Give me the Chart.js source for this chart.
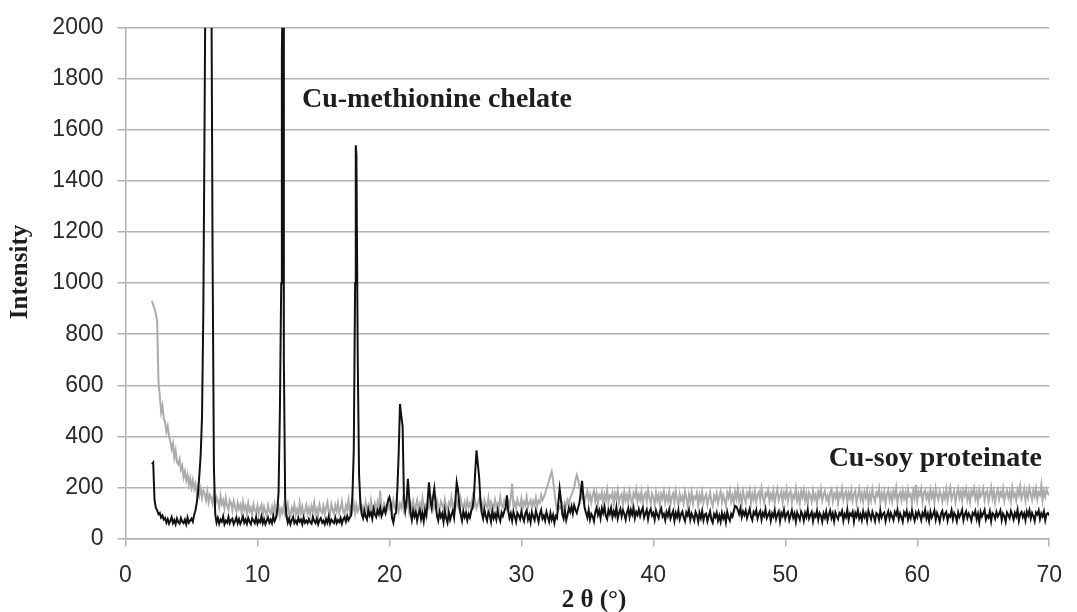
<!DOCTYPE html>
<html>
<head>
<meta charset="utf-8">
<script src="https://cdn.jsdelivr.net/npm/chart.js@4.4.1/dist/chart.umd.min.js"></script>
<style>
  html, body { margin: 0; padding: 0; background: #fff; }
  #xrd { display: block; }
</style>
</head>
<body>
<canvas id="xrd" width="1077" height="612"></canvas>
<script>
// 2 theta sampling (degrees), 0.1 step
const twoTheta = [
   2.0,  2.1,  2.2,  2.3,  2.4,  2.5,  2.6,  2.7,  2.8,  2.9,
   3.0,  3.1,  3.2,  3.3,  3.4,  3.5,  3.6,  3.7,  3.8,  3.9,
   4.0,  4.1,  4.2,  4.3,  4.4,  4.5,  4.6,  4.7,  4.8,  4.9,
   5.0,  5.1,  5.2,  5.3,  5.4,  5.5,  5.6,  5.7,  5.8,  5.9,
   6.0,  6.1,  6.2,  6.3,  6.4,  6.5,  6.6,  6.7,  6.8,  6.9,
   7.0,  7.1,  7.2,  7.3,  7.4,  7.5,  7.6,  7.7,  7.8,  7.9,
   8.0,  8.1,  8.2,  8.3,  8.4,  8.5,  8.6,  8.7,  8.8,  8.9,
   9.0,  9.1,  9.2,  9.3,  9.4,  9.5,  9.6,  9.7,  9.8,  9.9,
  10.0, 10.1, 10.2, 10.3, 10.4, 10.5, 10.6, 10.7, 10.8, 10.9,
  11.0, 11.1, 11.2, 11.3, 11.4, 11.5, 11.6, 11.7, 11.8, 11.9,
  12.0, 12.1, 12.2, 12.3, 12.4, 12.5, 12.6, 12.7, 12.8, 12.9,
  13.0, 13.1, 13.2, 13.3, 13.4, 13.5, 13.6, 13.7, 13.8, 13.9,
  14.0, 14.1, 14.2, 14.3, 14.4, 14.5, 14.6, 14.7, 14.8, 14.9,
  15.0, 15.1, 15.2, 15.3, 15.4, 15.5, 15.6, 15.7, 15.8, 15.9,
  16.0, 16.1, 16.2, 16.3, 16.4, 16.5, 16.6, 16.7, 16.8, 16.9,
  17.0, 17.1, 17.2, 17.3, 17.4, 17.5, 17.6, 17.7, 17.8, 17.9,
  18.0, 18.1, 18.2, 18.3, 18.4, 18.5, 18.6, 18.7, 18.8, 18.9,
  19.0, 19.1, 19.2, 19.3, 19.4, 19.5, 19.6, 19.7, 19.8, 19.9,
  20.0, 20.1, 20.2, 20.3, 20.4, 20.5, 20.6, 20.7, 20.8, 20.9,
  21.0, 21.1, 21.2, 21.3, 21.4, 21.5, 21.6, 21.7, 21.8, 21.9,
  22.0, 22.1, 22.2, 22.3, 22.4, 22.5, 22.6, 22.7, 22.8, 22.9,
  23.0, 23.1, 23.2, 23.3, 23.4, 23.5, 23.6, 23.7, 23.8, 23.9,
  24.0, 24.1, 24.2, 24.3, 24.4, 24.5, 24.6, 24.7, 24.8, 24.9,
  25.0, 25.1, 25.2, 25.3, 25.4, 25.5, 25.6, 25.7, 25.8, 25.9,
  26.0, 26.1, 26.2, 26.3, 26.4, 26.5, 26.6, 26.7, 26.8, 26.9,
  27.0, 27.1, 27.2, 27.3, 27.4, 27.5, 27.6, 27.7, 27.8, 27.9,
  28.0, 28.1, 28.2, 28.3, 28.4, 28.5, 28.6, 28.7, 28.8, 28.9,
  29.0, 29.1, 29.2, 29.3, 29.4, 29.5, 29.6, 29.7, 29.8, 29.9,
  30.0, 30.1, 30.2, 30.3, 30.4, 30.5, 30.6, 30.7, 30.8, 30.9,
  31.0, 31.1, 31.2, 31.3, 31.4, 31.5, 31.6, 31.7, 31.8, 31.9,
  32.0, 32.1, 32.2, 32.3, 32.4, 32.5, 32.6, 32.7, 32.8, 32.9,
  33.0, 33.1, 33.2, 33.3, 33.4, 33.5, 33.6, 33.7, 33.8, 33.9,
  34.0, 34.1, 34.2, 34.3, 34.4, 34.5, 34.6, 34.7, 34.8, 34.9,
  35.0, 35.1, 35.2, 35.3, 35.4, 35.5, 35.6, 35.7, 35.8, 35.9,
  36.0, 36.1, 36.2, 36.3, 36.4, 36.5, 36.6, 36.7, 36.8, 36.9,
  37.0, 37.1, 37.2, 37.3, 37.4, 37.5, 37.6, 37.7, 37.8, 37.9,
  38.0, 38.1, 38.2, 38.3, 38.4, 38.5, 38.6, 38.7, 38.8, 38.9,
  39.0, 39.1, 39.2, 39.3, 39.4, 39.5, 39.6, 39.7, 39.8, 39.9,
  40.0, 40.1, 40.2, 40.3, 40.4, 40.5, 40.6, 40.7, 40.8, 40.9,
  41.0, 41.1, 41.2, 41.3, 41.4, 41.5, 41.6, 41.7, 41.8, 41.9,
  42.0, 42.1, 42.2, 42.3, 42.4, 42.5, 42.6, 42.7, 42.8, 42.9,
  43.0, 43.1, 43.2, 43.3, 43.4, 43.5, 43.6, 43.7, 43.8, 43.9,
  44.0, 44.1, 44.2, 44.3, 44.4, 44.5, 44.6, 44.7, 44.8, 44.9,
  45.0, 45.1, 45.2, 45.3, 45.4, 45.5, 45.6, 45.7, 45.8, 45.9,
  46.0, 46.1, 46.2, 46.3, 46.4, 46.5, 46.6, 46.7, 46.8, 46.9,
  47.0, 47.1, 47.2, 47.3, 47.4, 47.5, 47.6, 47.7, 47.8, 47.9,
  48.0, 48.1, 48.2, 48.3, 48.4, 48.5, 48.6, 48.7, 48.8, 48.9,
  49.0, 49.1, 49.2, 49.3, 49.4, 49.5, 49.6, 49.7, 49.8, 49.9,
  50.0, 50.1, 50.2, 50.3, 50.4, 50.5, 50.6, 50.7, 50.8, 50.9,
  51.0, 51.1, 51.2, 51.3, 51.4, 51.5, 51.6, 51.7, 51.8, 51.9,
  52.0, 52.1, 52.2, 52.3, 52.4, 52.5, 52.6, 52.7, 52.8, 52.9,
  53.0, 53.1, 53.2, 53.3, 53.4, 53.5, 53.6, 53.7, 53.8, 53.9,
  54.0, 54.1, 54.2, 54.3, 54.4, 54.5, 54.6, 54.7, 54.8, 54.9,
  55.0, 55.1, 55.2, 55.3, 55.4, 55.5, 55.6, 55.7, 55.8, 55.9,
  56.0, 56.1, 56.2, 56.3, 56.4, 56.5, 56.6, 56.7, 56.8, 56.9,
  57.0, 57.1, 57.2, 57.3, 57.4, 57.5, 57.6, 57.7, 57.8, 57.9,
  58.0, 58.1, 58.2, 58.3, 58.4, 58.5, 58.6, 58.7, 58.8, 58.9,
  59.0, 59.1, 59.2, 59.3, 59.4, 59.5, 59.6, 59.7, 59.8, 59.9,
  60.0, 60.1, 60.2, 60.3, 60.4, 60.5, 60.6, 60.7, 60.8, 60.9,
  61.0, 61.1, 61.2, 61.3, 61.4, 61.5, 61.6, 61.7, 61.8, 61.9,
  62.0, 62.1, 62.2, 62.3, 62.4, 62.5, 62.6, 62.7, 62.8, 62.9,
  63.0, 63.1, 63.2, 63.3, 63.4, 63.5, 63.6, 63.7, 63.8, 63.9,
  64.0, 64.1, 64.2, 64.3, 64.4, 64.5, 64.6, 64.7, 64.8, 64.9,
  65.0, 65.1, 65.2, 65.3, 65.4, 65.5, 65.6, 65.7, 65.8, 65.9,
  66.0, 66.1, 66.2, 66.3, 66.4, 66.5, 66.6, 66.7, 66.8, 66.9,
  67.0, 67.1, 67.2, 67.3, 67.4, 67.5, 67.6, 67.7, 67.8, 67.9,
  68.0, 68.1, 68.2, 68.3, 68.4, 68.5, 68.6, 68.7, 68.8, 68.9,
  69.0, 69.1, 69.2, 69.3, 69.4, 69.5, 69.6, 69.7, 69.8, 69.9,
  70.0
];

// Cu-methionine chelate (black), one value per twoTheta
const chelateCounts = [
   290,  297,  150,  120,  110,   95,  100,   82,   90,   74,   // 2
    80,   62,   76,   58,   70,   84,   60,   72,   56,   78,   // 3
    64,   58,   80,   66,   60,   74,   56,   82,   62,   70,   // 4
    78,   66,   92,  110,  140,  180,  250,  330,  480,  900,   // 5
  1700, 2600, 3000, 3000, 3000, 2300, 1100,  280,   95,   62,   // 6
    80,   58,   74,   66,   86,   56,   70,   62,   84,   60,   // 7
    72,   78,   56,   68,   82,   60,   76,   58,   70,   86,   // 8
    62,   74,   58,   80,   66,   56,   78,   70,   60,   84,   // 9
    58,   72,   64,   86,   60,   76,   56,   70,   82,   62,   // 10
    74,   60,   88,   68,   80,  110,  180,  500, 1000, 2100,   // 11
   700,  150,   90,   62,   78,   56,   72,   84,   60,   70,   // 12
    58,   80,   66,   74,   56,   82,   62,   70,   60,   76,   // 13
    64,   58,   84,   68,   60,   78,   56,   72,   80,   62,   // 14
    70,   56,   76,   62,   86,   58,   74,   66,   60,   82,   // 15
    60,   72,   64,   80,   58,   76,   84,   66,   88,   72,   // 16
    82,   90,  170,  350, 1000, 1500,  700,  250,  140,   96,   // 17
    80,  108,   86,   74,  112,   90,  102,   78,  116,   94,   // 18
    84,  110,   96,  120,   88,  104,  118,  100,  126,  150,   // 19
   162,  140,   80,   62,   95,  100,  190,  330,  527,  480,   // 20
   440,  160,  110,  150,  234,  160,  100,   72,  108,   86,   // 21
   104,   70,   96,  112,   76,  100,   68,  110,   90,  150,   // 22
   220,  150,  120,  160,  196,  140,   90,   70,  104,   84,   // 23
    98,   66,  110,   80,   62,  102,   74,   94,  108,   82,   // 24
   150,  220,  190,  130,   95,   70,  106,   84,  100,   72,   // 25
    96,   82,  108,  120,  160,  260,  345,  292,  240,  150,   // 26
   100,   78,  112,   86,   70,  104,   92,   66,  108,   80,   // 27
    96,   74,  110,   84,   68,  102,   88,  106,  120,  169,   // 28
   110,   80,   98,   70,  104,   86,   66,  100,   90,   76,   // 29
   106,   82,   68,   98,  110,   74,   92,   64,  102,   86,   // 30
    72,  108,   88,   66,   96,  112,   78,   90,   70,  104,   // 31
    84,   66,  100,   74,   92,   62,   88,   80,  140,  195,   // 32
   150,   96,   78,  110,   72,   94,  120,  104,  126,   98,   // 33
   130,  112,  100,  120,  140,  180,  226,  160,  118,  100,   // 34
    82,  112,   74,   96,   86,   68,  104,  120,   92,  110,   // 35
    80,  118,  100,  124,   88,   76,  112,   96,  120,   84,   // 36
   106,   90,  122,   78,  100,  116,   86,  110,   96,   74,   // 37
   102,  118,   84,  112,   94,  120,   80,  104,   92,  114,   // 38
    88,  108,  120,   82,   98,  112,   76,  104,  116,   90,   // 39
   100,   74,  110,   92,   80,  106,  118,   86,   96,   72,   // 40
   104,   88,  112,   78,   94,  108,   70,  100,   84,  110,   // 41
    76,   96,  106,   82,   68,  102,   90,  112,   74,   98,   // 42
    86,   70,  104,   92,   66,  100,   80,  108,   72,   94,   // 43
    98,   68,   88,  106,   74,   62,   96,   84,  102,   70,   // 44
    90,   66,  100,   78,   94,   64,  104,   82,   70,   96,   // 45
    86,  108,  128,  125,  112,   96,  118,   84,  106,   92,   // 46
   110,   80,   98,  116,   86,   72,  104,   94,  112,   78,   // 47
    96,  108,   74,  100,   88,  114,   80,   92,  104,   70,   // 48
    98,   86,  110,   76,   94,  106,   68,  100,   88,  112,   // 49
    78,   96,  104,   72,   90,  110,   82,   98,   66,  102,   // 50
    88,   74,  106,   94,   70,  100,   84,  112,   78,   92,   // 51
   104,   68,   96,   86,  108,   74,  100,   90,   66,   98,   // 52
    82,  106,   72,   94,  110,   80,   98,   68,  102,   88,   // 53
    76,  100,   92,  108,   70,   96,   84,  112,   74,   98,   // 54
    90,  104,   66,  100,   86,  110,   78,   94,   72,  106,   // 55
    84,   98,   70,  108,   92,   76,  104,   88,   68,  100,   // 56
    94,   74,  110,   82,   96,  102,   68,   90,  106,   78,   // 57
   100,   86,   72,  104,   92,  112,   76,   98,   84,   66,   // 58
   102,   90,  108,   74,   96,   80,  110,   88,   70,  100,   // 59
    84,  106,   92,   72,  100,   88,  112,   78,   96,   68,   // 60
   104,   82,   94,  110,   74,  100,   86,   66,   98,  108,   // 61
    80,   96,  104,   70,   92,   86,  110,   76,  100,   90,   // 62
    68,  102,   84,   96,  112,   72,   94,  106,   80,   98,   // 63
    88,   70,  100,   92,  108,   76,   96,   64,  104,   86,   // 64
    98,  112,   74,   90,   82,  106,   68,  100,   94,   78,   // 65
   104,   86,   96,  110,   72,   98,   88,   66,  102,   92,   // 66
    80,  108,   94,   74,  100,   86,  112,   70,   96,  104,   // 67
    84,   98,   72,  106,   90,  110,   78,  100,   88,   68,   // 68
   102,   94,  110,   76,   98,   86,  106,   72,   96,  100,   // 69
    90
];

// extra points on the sharp chelate reflections
const chelatePeakTheta  = [11.85, 11.95, 17.45];
const chelatePeakCounts = [1900, 2100, 1540];

// Cu-soy proteinate (grey), one value per twoTheta
const proteinateCounts = [
   930,  915,  900,  880,  850,  610,  560,  495,  520,  470,   // 2
   455,  418,  440,  400,  380,  350,  372,  316,  345,  300,   // 3
   290,  310,  270,  285,  239,  262,  228,  250,  210,  236,   // 4
   200,  228,  195,  214,  176,  205,  170,  196,  160,  188,   // 5
   176,  150,  184,  142,  170,  158,  136,  176,  130,  162,   // 6
   148,  122,  166,  134,  150,  118,  158,  128,  112,  150,   // 7
   138,  110,  146,  124,  104,  140,  116,  132,  100,  144,   // 8
   112,  128,   98,  138,  106,  120,   94,  134,  110,  102,   // 9
   128,   96,  118,  132,   92,  124,  104,   90,  130,  108,   // 10
    98,  122,   90,  134,  106,   94,  126,   88,  116,  100,   // 11
   128,   92,  110,  136,   96,   88,  120,  104,  132,   94,   // 12
   114,   90,  138,  100,  124,   92,  108,  130,   96,  118,   // 13
    94,  126,  106,  140,   98,  116,   92,  132,  110,  100,   // 14
   128,   96,  120,  142,  104,   94,  134,  112,   98,  130,   // 15
   108,  138,  100,  118,  144,  104,   96,  130,  114,  150,   // 16
   102,  126,  110,  140,   98,  132,  106,  118,  146,  104,   // 17
   124,  100,  140,  112,  130,  106,  150,  118,  102,  136,   // 18
   112,  142,  108,  188,  120,  104,  138,  126,  110,  146,   // 19
   118,  132,  106,  150,  124,  112,  142,  108,  136,  120,   // 20
   148,  110,  130,  122,  154,  106,  138,  116,  144,  112,   // 21
   128,  150,  114,  136,  108,  158,  122,  132,  110,  146,   // 22
   120,  138,  156,  112,  130,  118,  150,  126,  108,  144,   // 23
   132,  116,  152,  124,  110,  140,  128,  160,  114,  136,   // 24
   118,  148,  126,  112,  156,  130,  120,  142,  116,  150,   // 25
   124,  138,  114,  160,  128,  146,  118,  134,  154,  122,   // 26
   140,  116,  150,  130,  124,  158,  112,  144,  132,  120,   // 27
   152,  126,  138,  118,  162,  130,  122,  148,  134,  116,   // 28
   146,  128,  160,  215,  124,  140,  118,  152,  132,  126,   // 29
   156,  120,  144,  130,  162,  124,  138,  150,  118,  146,   // 30
   132,  160,  126,  148,  140,  170,  150,  162,  175,  196,   // 31
   210,  228,  245,  262,  230,  185,  140,  115,  110,  125,   // 32
   118,  135,  112,  140,  128,  150,  132,  160,  170,  185,   // 33
   200,  228,  248,  230,  205,  180,  158,  172,  145,  165,   // 34
   185,  150,  172,  140,  168,  188,  146,  176,  135,  170,   // 35
   158,  182,  138,  172,  150,  190,  142,  168,  160,  180,   // 36
   136,  176,  155,  188,  142,  165,  174,  132,  182,  150,   // 37
   170,  140,  186,  156,  134,  178,  162,  192,  144,  172,   // 38
   152,  184,  136,  166,  178,  146,  190,  158,  138,  176,   // 39
   160,  134,  180,  150,  170,  128,  174,  156,  186,  140,   // 40
   168,  148,  182,  132,  162,  176,  142,  186,  154,  130,   // 41
   174,  150,  166,  138,  184,  160,  128,  172,  146,  180,   // 42
   136,  164,  156,  178,  130,  170,  148,  182,  140,  160,   // 43
   172,  132,  158,  180,  144,  126,  168,  152,  176,  138,   // 44
   164,  184,  142,  170,  150,  130,  178,  160,  188,  146,   // 45
   168,  140,  182,  156,  194,  148,  172,  136,  186,  160,   // 46
   142,  178,  164,  190,  138,  174,  152,  186,  144,  170,   // 47
   182,  150,  196,  162,  140,  178,  168,  190,  146,  174,   // 48
   156,  186,  138,  172,  194,  150,  166,  184,  142,  178,   // 49
   160,  192,  146,  176,  186,  140,  170,  158,  196,  150,   // 50
   174,  138,  184,  162,  190,  148,  176,  134,  180,  166,   // 51
   144,  188,  156,  172,  136,  182,  164,  194,  148,  170,   // 52
   186,  152,  168,  140,  180,  192,  146,  174,  160,  188,   // 53
   138,  176,  164,  196,  150,  170,  184,  142,  178,  158,   // 54
   190,  148,  172,  186,  140,  166,  194,  154,  176,  144,   // 55
   182,  160,  188,  136,  174,  150,  192,  162,  146,  180,   // 56
   168,  196,  142,  178,  156,  184,  138,  172,  190,  152,   // 57
   176,  146,  186,  164,  198,  140,  170,  182,  150,  188,   // 58
   158,  180,  144,  192,  166,  174,  136,  186,  160,  210,   // 59
   148,  184,  170,  194,  142,  178,  188,  156,  176,  146,   // 60
   190,  162,  182,  140,  196,  168,  152,  186,  172,  144,   // 61
   180,  158,  192,  148,  176,  200,  154,  170,  186,  142,   // 62
   174,  196,  160,  182,  146,  188,  168,  194,  152,  178,   // 63
   144,  186,  172,  198,  156,  180,  142,  190,  164,  176,   // 64
   196,  150,  178,  188,  146,  172,  200,  158,  184,  140,   // 65
   176,  192,  154,  180,  166,  196,  148,  174,  188,  160,   // 66
   182,  146,  198,  164,  176,  150,  190,  170,  204,  156,   // 67
   172,  194,  148,  184,  160,  198,  176,  152,  188,  166,   // 68
   196,  154,  180,  170,  210,  150,  186,  164,  192,  176,   // 69
   170
];

const xTicks = [0, 10, 20, 30, 40, 50, 60, 70];
const yTicks = [0, 200, 400, 600, 800, 1000, 1200, 1400, 1600, 1800, 2000];

const seriesNames = ['Cu-methionine chelate', 'Cu-soy proteinate'];

if (chelateCounts.length !== twoTheta.length || proteinateCounts.length !== twoTheta.length) {
  console.warn('length mismatch', twoTheta.length, chelateCounts.length, proteinateCounts.length);
}

// punkte bauen
const chelateData = twoTheta.map((x, i) => ({ x, y: chelateCounts[i] }))
  .concat(chelatePeakTheta.map((x, i) => ({ x, y: chelatePeakCounts[i] })))
  .sort((a, b) => a.x - b.x);
const proteinateData = twoTheta.map((x, i) => ({ x, y: proteinateCounts[i] }));

const gridGrey = '#b2b2b2';
const tickFont = { family: '"Liberation Sans", Arial, sans-serif', size: 23 };

// labels in the plot + axis titles
const textPlugin = {
  id: 'xrdText',
  afterDraw(chart) {
    const ctx = chart.ctx;
    ctx.save();
    ctx.fillStyle = '#1e1e1e';
    ctx.textBaseline = 'alphabetic';
    ctx.font = 'bold 28px "Liberation Serif", "Times New Roman", serif';
    ctx.textAlign = 'left';
    ctx.fillText(seriesNames[0], 302, 107);
    ctx.textAlign = 'right';
    ctx.fillText(seriesNames[1], 1042, 466);

    ctx.textAlign = 'center';
    ctx.font = 'bold 25px "Liberation Serif", "Times New Roman", serif';
    ctx.fillText('2 \u03b8 (\u00b0)', 594, 607);

    ctx.translate(27, 272);
    ctx.rotate(-Math.PI / 2);
    ctx.fillText('Intensity', 0, 0);
    ctx.restore();
  }
};

new Chart(document.getElementById('xrd'), {
  type: 'line',
  data: {
    datasets: [
      {
        label: seriesNames[0],
        data: chelateData,
        borderColor: '#111111',
        borderWidth: 2,
        pointRadius: 0,
        tension: 0,
        clip: 0,
        order: 0
      },
      {
        label: seriesNames[1],
        data: proteinateData,
        borderColor: '#ababab',
        borderWidth: 2,
        pointRadius: 0,
        tension: 0,
        clip: 0,
        order: 1
      }
    ]
  },
  options: {
    responsive: false,
    animation: false,
    devicePixelRatio: 1,
    layout: { padding: { left: 0, right: 27, top: 17.5, bottom: 0 } },
    plugins: {
      legend: { display: false },
      tooltip: { enabled: false },
      title: { display: false }
    },
    scales: {
      x: {
        type: 'linear',
        min: 0,
        max: 70,
        afterBuildTicks: (s) => { s.ticks = xTicks.map(v => ({ value: v })); },
        afterFit: (s) => { s.height = 73.5; },
        ticks: { font: tickFont, color: '#2a2a2a', padding: 15, maxRotation: 0, autoSkip: false, callback: (v) => String(v) },
        grid: { drawOnChartArea: false, drawTicks: true, tickLength: 8, color: gridGrey, lineWidth: 1.5 },
        border: { display: true, color: gridGrey, width: 1.5 }
      },
      y: {
        min: 0,
        max: 2000,
        afterBuildTicks: (s) => { s.ticks = yTicks.map(v => ({ value: v })); },
        afterFit: (s) => { s.width = 125.5; },
        ticks: { font: tickFont, color: '#2a2a2a', padding: 14, callback: (v) => String(v) },
        grid: { drawOnChartArea: true, drawTicks: true, tickLength: 8, color: gridGrey, lineWidth: 1.5 },
        border: { display: true, color: gridGrey, width: 1.5 }
      }
    }
  },
  plugins: [textPlugin]
});
</script>
</body>
</html>
